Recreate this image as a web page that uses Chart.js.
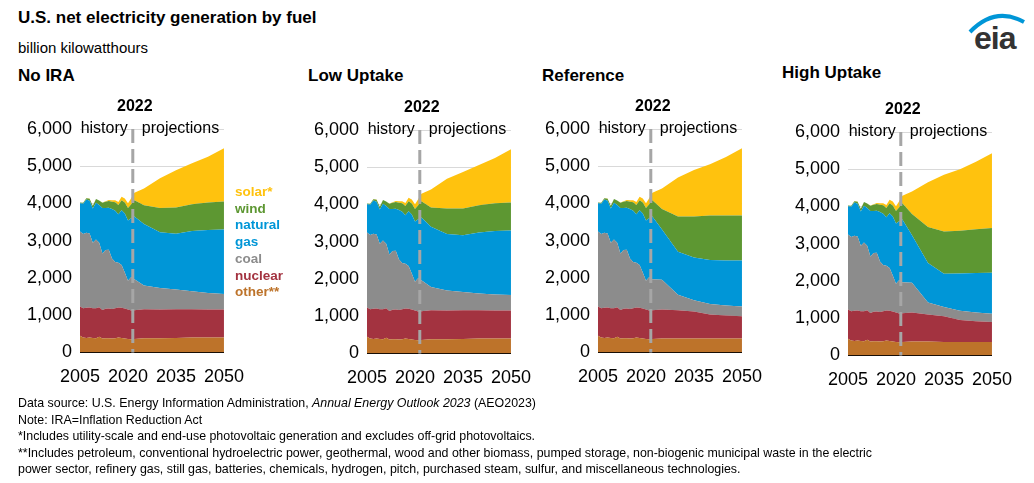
<!DOCTYPE html>
<html>
<head>
<meta charset="utf-8">
<script src="https://cdn.jsdelivr.net/npm/chart.js@4/dist/chart.umd.min.js"></script>
<style>
body { margin:0; width:1034px; height:483px; background:#fff; font-family:"Liberation Sans", Arial, sans-serif; position:relative; overflow:hidden; }
.t { position:absolute; white-space:nowrap; color:#000; }
.panel { position:absolute; top:88px; width:250px; height:312px; }
.leg { position:absolute; left:235px; top:184px; font-weight:bold; font-size:13.5px; line-height:16.7px; }
.foot { position:absolute; left:18px; top:395px; font-size:12.4px; line-height:16.6px; color:#000; }
</style>
</head>
<body>
<div class="t" style="left:18px;top:8px;font-size:17px;font-weight:bold;">U.S. net electricity generation by fuel</div>
<div class="t" style="left:18px;top:39px;font-size:15px;">billion kilowatthours</div>
<div class="t" style="left:974px;top:20px;font-size:32px;font-weight:bold;color:#333;letter-spacing:-1px;">eia</div>
<svg style="position:absolute;left:960px;top:8px" width="70" height="30"><path d="M10 24 Q35 -2 64 14" stroke="#0096d7" stroke-width="4" fill="none"/></svg>

<div class="t" style="left:18px;top:66px;font-size:17px;font-weight:bold;">No IRA</div>
<div class="t" style="left:308px;top:66px;font-size:17px;font-weight:bold;">Low Uptake</div>
<div class="t" style="left:542px;top:66px;font-size:17px;font-weight:bold;">Reference</div>
<div class="t" style="left:782px;top:63px;font-size:17px;font-weight:bold;">High Uptake</div>

<div class="panel" style="left:0px"><canvas id="c0"></canvas></div>
<div class="panel" style="left:287px;top:89px"><canvas id="c1"></canvas></div>
<div class="panel" style="left:518px"><canvas id="c2"></canvas></div>
<div class="panel" style="left:768px;top:91px"><canvas id="c3"></canvas></div>

<div class="leg">
<div style="color:#ffc20e">solar*</div>
<div style="color:#5d9732">wind</div>
<div style="color:#0096d7">natural</div>
<div style="color:#0096d7">gas</div>
<div style="color:#8c8c8c">coal</div>
<div style="color:#a33340">nuclear</div>
<div style="color:#bd732a">other**</div>
</div>

<div class="foot">
Data source: U.S. Energy Information Administration, <i>Annual Energy Outlook 2023</i> (AEO2023)<br>
Note: IRA=Inflation Reduction Act<br>
*Includes utility-scale and end-use photovoltaic generation and excludes off-grid photovoltaics.<br>
**Includes petroleum, conventional hydroelectric power, geothermal, wood and other biomass, pumped storage, non-biogenic municipal waste in the electric<br>
power sector, refinery gas, still gas, batteries, chemicals, hydrogen, pitch, purchased steam, sulfur, and miscellaneous technologies.
</div>

<script>
// years: history 2005-2022 annual, projections every 5 years
const years = [2005,2006,2007,2008,2009,2010,2011,2012,2013,2014,2015,2016,2017,2018,2019,2020,2021,2022,2025,2030,2035,2040,2045,2050];

const histOther   = [450,400,390,400,390,380,420,370,380,380,370,380,400,390,370,360,350,360];
const histNuclear = [782,787,806,806,799,807,790,769,789,797,797,806,805,807,809,790,778,772];
const histCoal    = [2013,1991,2016,1986,1756,1847,1733,1514,1581,1582,1352,1239,1206,1149,965,774,898,832];
const histGas     = [761,816,897,883,921,988,1014,1226,1125,1127,1335,1379,1297,1469,1586,1617,1575,1687];
const histWind    = [18,26,34,55,74,95,120,141,168,182,191,227,254,273,295,338,378,434];
const histSolar   = [1,1,1,2,2,3,4,9,16,28,39,54,77,93,107,130,164,205];

// projections 2025..2050: [other, nuclear, coal, gas, wind, solar] per scenario
const noIraOther   = [380,380,390,400,400,400];
const noIraNuclear = [780,770,770,760,755,750];
const noIraCoal    = [640,580,530,480,440,420];
const noIraGas     = [1650,1500,1500,1620,1690,1730];
const noIraWind    = [500,650,700,720,740,750];
const noIraSolar   = [450,800,1000,1100,1230,1430];

const lowOther   = [380,380,390,400,400,400];
const lowNuclear = [780,770,770,760,755,750];
const lowCoal    = [620,540,490,450,430,420];
const lowGas     = [1620,1520,1520,1640,1700,1730];
const lowWind    = [520,680,720,730,750,750];
const lowSolar   = [480,800,980,1080,1210,1430];

const refOther   = [370,370,370,370,370,370];
const refNuclear = [780,760,730,650,620,600];
const refCoal    = [800,420,300,280,270,260];
const refGas     = [1350,1150,1150,1180,1210,1240];
const refWind    = [550,950,1100,1200,1210,1210];
const refSolar   = [550,1050,1250,1370,1570,1800];

const highOther   = [370,370,360,360,360,360];
const highNuclear = [780,730,690,590,560,540];
const highCoal    = [800,320,250,250,230,220];
const highGas     = [1280,1060,890,1000,1060,1100];
const highWind    = [570,970,1140,1150,1180,1200];
const highSolar   = [600,1200,1520,1650,1810,2010];

const fuelNames  = ['other','nuclear','coal','natural gas','wind','solar'];
const fuelColors = ['#bd732a','#a33340','#8c8c8c','#0096d7','#5d9732','#ffc20e'];
const yTicks = [0,1000,2000,3000,4000,5000,6000];
const historyEnd = 2021.5;

const hist = [histOther, histNuclear, histCoal, histGas, histWind, histSolar];
const scenarios = [
    [noIraOther, noIraNuclear, noIraCoal, noIraGas, noIraWind, noIraSolar],
    [lowOther, lowNuclear, lowCoal, lowGas, lowWind, lowSolar],
    [refOther, refNuclear, refCoal, refGas, refWind, refSolar],
    [highOther, highNuclear, highCoal, highGas, highWind, highSolar]
];

// dashed 2022 line and labels
const divider = {
    id: 'divider',
    afterDatasetsDraw(chart)
    {
        const ctx = chart.ctx;
        const x = chart.scales.x.getPixelForValue(historyEnd);
        const yTop = chart.scales.y.getPixelForValue(6000);
        const yBot = chart.scales.y.getPixelForValue(0);
        ctx.save();
        ctx.strokeStyle = '#a6a6a6';
        ctx.lineWidth = 3;
        ctx.setLineDash([14, 6]);
        ctx.beginPath();
        ctx.moveTo(x, yTop);
        ctx.lineTo(x, yBot);
        ctx.stroke();
        ctx.fillStyle = '#000';
        ctx.textBaseline = 'middle';
        ctx.font = 'bold 16px "Liberation Sans", Arial';
        ctx.textAlign = 'center';
        ctx.fillText('2022', x + 2, yTop - 22);
        ctx.font = '16px "Liberation Sans", Arial';
        ctx.textAlign = 'right';
        ctx.fillText('history', x - 5, yTop);
        ctx.textAlign = 'left';
        ctx.fillText('projections', x + 9, yTop);
        ctx.restore();
    }
};

function makeChart(id, proj)
{
    const datasets = fuelNames.map((name, i) =>
    {
        const vals = hist[i].concat(proj[i]);
        return {
            label: name,
            data: years.map((y, j) => ({x: y, y: vals[j]})),
            backgroundColor: fuelColors[i],
            borderWidth: 0,
            pointRadius: 0,
            fill: i == 0 ? 'origin' : '-1',
            tension: 0
        };
    });

    new Chart(document.getElementById(id),
    {
        type: 'line',
        data: { datasets: datasets },
        options: {
            responsive: true,
            maintainAspectRatio: false,
            animation: false,
            layout: { padding: { top: 41, right: 10, bottom: 6 } },
            plugins: { legend: { display: false }, tooltip: { enabled: false } },
            scales: {
                x: {
                    type: 'linear', min: 2005, max: 2050,
                    grid: { display: false, drawTicks: true },
                    border: { color: '#000', width: 1 },
                    ticks: { stepSize: 15, color: '#000', font: { size: 18, family: '"Liberation Sans", Arial' }, padding: 6, maxRotation: 0,
                             callback: v => String(v) }
                },
                y: {
                    stacked: true, min: 0, max: 6000,
                    afterBuildTicks: s => { s.ticks = yTicks.map(v => ({value: v})); },
                    afterFit: s => { s.width = 80; },
                    grid: { color: '#d9d9d9', drawTicks: false },
                    border: { display: false },
                    ticks: { color: '#000', font: { size: 18, family: '"Liberation Sans", Arial' }, padding: 8,
                             callback: v => v.toLocaleString('en-US') }
                }
            }
        },
        plugins: [divider]
    });
}

scenarios.forEach((s, i) => makeChart('c' + i, s));
</script>
</body>
</html>
